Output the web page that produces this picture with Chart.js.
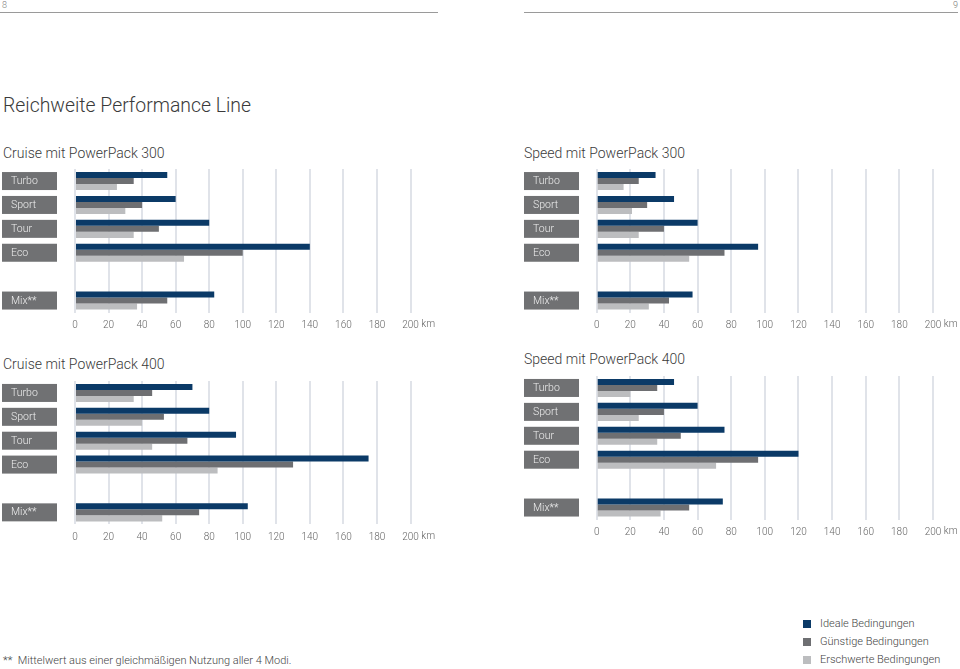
<!DOCTYPE html>
<html><head><meta charset="utf-8">
<script src="https://cdn.jsdelivr.net/npm/chart.js@4.4.1/dist/chart.umd.min.js"></script>
<style>
html,body{margin:0;padding:0;background:#fff;}
body{width:960px;height:669px;position:relative;overflow:hidden;font-family:Roboto,"Open Sans",sans-serif;font-weight:300;color:#3d3d3d;}
.abs{position:absolute;white-space:nowrap;line-height:1;}
.wrap{position:absolute;width:440px;height:190px;}
.rule{position:absolute;top:12px;height:0;border-top:1px solid #9a9a9a;}
.sq{position:absolute;width:8px;height:8px;}
</style></head>
<body>
<div class="abs" style="left:2px;top:1px;font-size:9px;color:#777;">8</div>
<div class="abs" style="left:953px;top:1px;font-size:9px;color:#777;">9</div>
<div class="rule" style="left:0;width:438px;"></div>
<div class="rule" style="left:524px;width:434px;"></div>

<div class="abs" style="left:3px;top:96px;font-size:19.4px;color:#3a3a3a;">Reichweite Performance Line</div>
<div class="abs" style="left:3px;top:146px;font-size:14px;color:#3a3a3a;">Cruise mit PowerPack 300</div>
<div class="abs" style="left:524px;top:146px;font-size:14px;color:#3a3a3a;">Speed mit PowerPack 300</div>
<div class="abs" style="left:3px;top:357px;font-size:14px;color:#3a3a3a;">Cruise mit PowerPack 400</div>
<div class="abs" style="left:524px;top:352px;font-size:14px;color:#3a3a3a;">Speed mit PowerPack 400</div>

<div class="wrap" style="left:0;top:160px;"><canvas id="c1"></canvas></div>
<div class="wrap" style="left:520px;top:160px;"><canvas id="c2"></canvas></div>
<div class="wrap" style="left:0;top:370px;"><canvas id="c3"></canvas></div>
<div class="wrap" style="left:520px;top:365px;"><canvas id="c4"></canvas></div>

<div class="abs" style="left:3px;top:655px;font-size:11px;color:#444;">**&nbsp; Mittelwert aus einer gleichmäßigen Nutzung aller 4 Modi.</div>

<div id="legend"></div>

<script>
const categories = ['Turbo', 'Sport', 'Tour', 'Eco', '', 'Mix**'];
const seriesNames = ['Ideale Bedingungen', 'Günstige Bedingungen', 'Erschwerte Bedingungen'];
const tickLabels = ['0', '20', '40', '60', '80', '100', '120', '140', '160', '180', '200'];
const unitLabel = 'km';

const cruise300Ideal = [55, 60, 80, 140, null, 83];
const cruise300Good  = [35, 40, 50, 100, null, 55];
const cruise300Hard  = [25, 30, 35, 65, null, 37];

const speed300Ideal = [35, 46, 60, 96, null, 57];
const speed300Good  = [25, 30, 40, 76, null, 43];
const speed300Hard  = [16, 21, 25, 55, null, 31];

const cruise400Ideal = [70, 80, 96, 175, null, 103];
const cruise400Good  = [46, 53, 67, 130, null, 74];
const cruise400Hard  = [35, 40, 46, 85, null, 52];

const speed400Ideal = [46, 60, 76, 120, null, 75];
const speed400Good  = [36, 40, 50, 96, null, 55];
const speed400Hard  = [20, 25, 36, 71, null, 38];

const colors = ['#0b3a67', '#6e6f72', '#bcbdbf'];
const FONT = 'Roboto, "Open Sans", sans-serif';

// legend (HTML)
const lg = document.getElementById('legend');
seriesNames.forEach((n, i) => {
  const y = 624 + i * 18;
  const s = document.createElement('div');
  s.className = 'sq'; s.style.left = '803px'; s.style.top = (y - 4.5) + 'px'; s.style.background = colors[i];
  lg.appendChild(s);
  const t = document.createElement('div');
  t.className = 'abs'; t.style.left = '820px'; t.style.top = (y - 6) + 'px'; t.style.fontSize = '11px'; t.style.color = '#444';
  t.textContent = n;
  lg.appendChild(t);
});

const labelBoxes = {
  id: 'labelBoxes',
  afterDraw(chart, args, opts) {
    const ctx = chart.ctx;
    const ys = chart.scales.y;
    const xs = chart.scales.x;
    chart.data.labels.forEach((lab, i) => {
      if (!lab) return;
      const yc = ys.getPixelForValue(i);
      ctx.save();
      ctx.fillStyle = '#707173';
      ctx.fillRect(opts.x, yc - 9, 55, 18);
      ctx.fillStyle = '#eeeeee';
      ctx.font = '300 10.5px ' + FONT;
      ctx.textBaseline = 'middle';
      ctx.fillText(lab, opts.x + 9, yc + 0.5);
      ctx.restore();
    });
    // unit after the last tick label
    ctx.save();
    ctx.font = '300 10px ' + FONT;
    ctx.fillStyle = '#666666';
    ctx.textBaseline = 'top';
    const lastW = ctx.measureText(tickLabels[tickLabels.length - 1]).width;
    const xEnd = xs.getPixelForValue(200) + lastW / 2 + 2.5;
    ctx.fillText(unitLabel, xEnd, xs.top + 7);
    ctx.restore();
  }
};

function makeChart(id, ideal, good, hard, pad, boxX) {
  const vals = [ideal, good, hard];
  new Chart(document.getElementById(id), {
    type: 'bar',
    data: {
      labels: categories,
      datasets: vals.map((v, i) => ({
        label: seriesNames[i],
        data: v,
        backgroundColor: colors[i],
        borderWidth: 0,
        barPercentage: 1,
        categoryPercentage: 0.756
      }))
    },
    options: {
      indexAxis: 'y',
      responsive: false,
      maintainAspectRatio: false,
      animation: false,
      events: [],
      layout: { padding: pad },
      plugins: { legend: { display: false }, tooltip: { enabled: false }, labelBoxes: { x: boxX } },
      scales: {
        x: {
          min: 0, max: 200,
          ticks: {
            stepSize: 20,
            padding: 7,
            maxRotation: 0,
            minRotation: 0,
            autoSkip: false,
            color: '#666666',
            font: { family: FONT, size: 10, weight: 300 },
            callback: (v, i) => tickLabels[i]
          },
          grid: { color: '#e0e3e9', lineWidth: 2, drawTicks: false },
          border: { display: false }
        },
        y: { display: false }
      }
    },
    plugins: [labelBoxes]
  });
}

['c1','c2','c3','c4'].forEach(id => { const c = document.getElementById(id); c.width = 440; c.height = 190; c.style.width='440px'; c.style.height='190px'; });

makeChart('c1', cruise300Ideal, cruise300Good, cruise300Hard, { left: 75, right: 29.5, top: 9.1, bottom: 11.5 }, 2);
makeChart('c2', speed300Ideal, speed300Good, speed300Hard, { left: 76.7, right: 27, top: 9.1, bottom: 11.5 }, 4);
makeChart('c3', cruise400Ideal, cruise400Good, cruise400Hard, { left: 75, right: 29.5, top: 11, bottom: 9.7 }, 2);
makeChart('c4', speed400Ideal, speed400Good, speed400Hard, { left: 76.7, right: 27, top: 11, bottom: 9.5 }, 4);
</script>
</body></html>
